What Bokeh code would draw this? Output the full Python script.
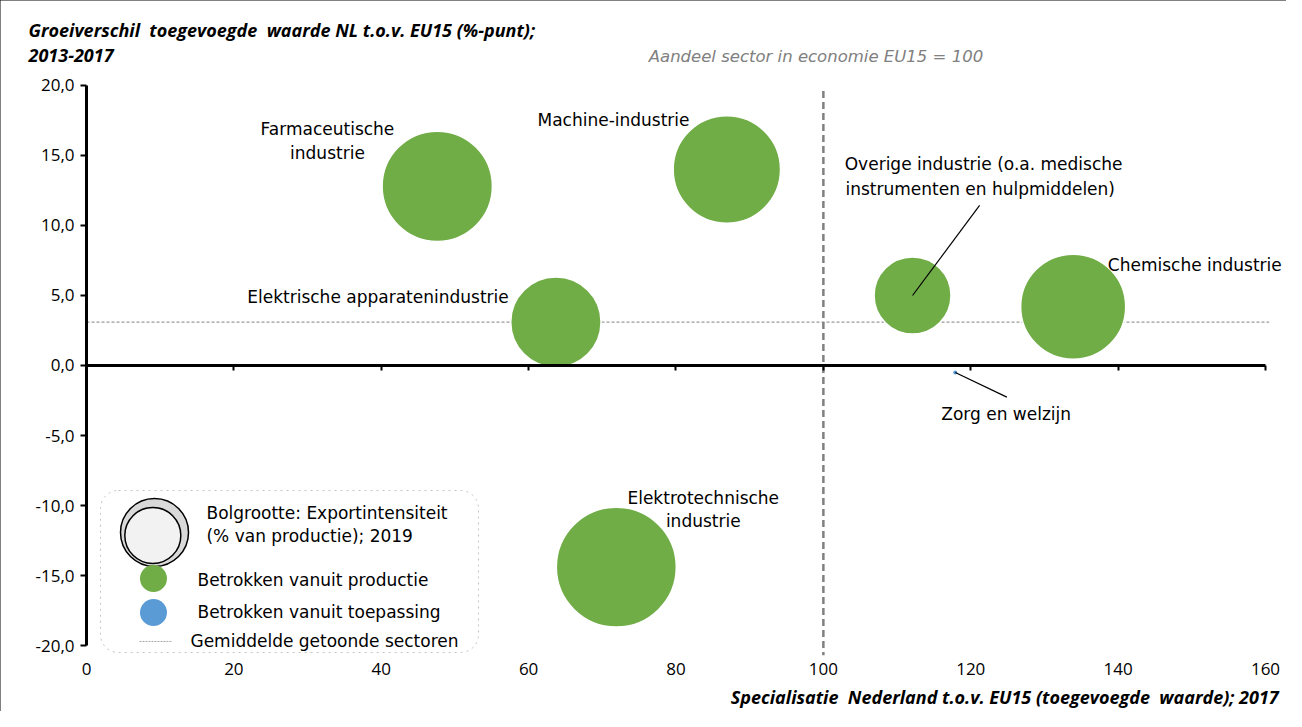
from bokeh.plotting import figure
from bokeh.models import Label, FixedTicker, BoxAnnotation, ColumnDataSource, LinearAxis
from bokeh.embed import file_html
from bokeh.resources import INLINE
import numpy as np

# ---------------- data ----------------
sectors = ["Farmaceutische industrie", "Machine-industrie", "Elektrische apparatenindustrie",
           "Overige industrie", "Chemische industrie", "Elektrotechnische industrie",
           "Zorg en welzijn"]
specialisatie = [47.6, 86.9, 63.7, 112.1, 133.9, 71.9, 117.9]      # x: index EU15 = 100
groeiverschil = [12.8, 14.0, 3.1, 5.0, 4.2, -14.4, -0.5]           # y: %-punt
exportintensiteit = [76, 72, 51, 37, 69, 90, 0.2]                  # bubble size (% of production)
betrokken = ["productie", "productie", "productie", "productie", "productie",
             "productie", "toepassing"]
gemiddelde = 3.1
eu15_index = 100
x_ticks = [0, 20, 40, 60, 80, 100, 120, 140, 160]
y_ticks = [-20, -15, -10, -5, 0, 5, 10, 15, 20]
y_tick_labels = ["-20,0", "-15,0", "-10,0", "-5,0", "0,0", "5,0", "10,0", "15,0", "20,0"]

GREEN = "#70AD47"
BLUE = "#5B9BD5"
FONT = "DejaVu Sans"
TFONT = "Open Sans"
LSIZE = "17px"
BUBBLE_SCALE = 12.65  # px diameter per sqrt(%)

colors = [GREEN if b == "productie" else BLUE for b in betrokken]
sizes = [BUBBLE_SCALE * np.sqrt(v) for v in exportintensiteit]
src = ColumnDataSource(dict(x=specialisatie, y=groeiverschil, size=sizes, color=colors, name=sectors))

W, H = 1286, 711
# frame covers the whole canvas; axes are placed at fixed data locations
p = figure(width=W, height=H, x_range=(-11.671, 162.85), y_range=(-24.714, 26.071),
           output_backend="svg", toolbar_location=None,
           x_axis_location=None, y_axis_location=None,
           min_border=0, min_border_left=0, min_border_right=0,
           min_border_top=0, min_border_bottom=0)
p.styles = {"outline": "1px solid #000", "outline-offset": "-1px"}
p.outline_line_color = None
p.xgrid.visible = False
p.ygrid.visible = False
p.background_fill_color = "white"
p.border_fill_color = "white"

# legend box (underlay)
box = BoxAnnotation(left=1.9, right=53.2, top=-8.93, bottom=-20.5, border_radius=18,
                    fill_color="white", fill_alpha=1, line_color="#404040",
                    line_dash="dotted", line_width=1, level="underlay")
p.add_layout(box)

# y axis at x = 0
yax = LinearAxis(fixed_location=0, bounds=(-20, 20), ticker=FixedTicker(ticks=y_ticks))
yax.major_label_overrides = {t: l for t, l in zip(y_ticks, y_tick_labels)}
yax.axis_line_width = 3
yax.axis_line_color = "black"
yax.major_tick_out = 6
yax.major_tick_in = 0
yax.major_tick_line_width = 2
yax.minor_tick_line_color = None
yax.major_label_text_font = TFONT
yax.major_label_text_font_size = "17px"
yax.major_label_text_color = "black"
yax.major_label_standoff = 6
p.add_layout(yax, "left")

# x axis line at y = 0 (ticks only)
xax0 = LinearAxis(fixed_location=0, bounds=(0, 160), ticker=FixedTicker(ticks=x_ticks))
xax0.axis_line_width = 3
xax0.axis_line_color = "black"
xax0.major_tick_out = 5
xax0.major_tick_in = 0
xax0.major_tick_line_width = 2
xax0.minor_tick_line_color = None
xax0.major_label_text_color = None
xax0.major_label_text_font_size = "1px"
p.add_layout(xax0, "below")

# x tick labels at the bottom (y = -20)
xax = LinearAxis(fixed_location=-20, bounds=(0, 160), ticker=FixedTicker(ticks=x_ticks))
xax.axis_line_color = None
xax.major_tick_line_color = None
xax.minor_tick_line_color = None
xax.major_tick_out = 0
xax.major_tick_in = 0
xax.major_label_text_font = TFONT
xax.major_label_text_font_size = "17px"
xax.major_label_text_color = "black"
xax.major_label_standoff = 17
p.add_layout(xax, "below")

# reference lines
p.segment(x0=[0], y0=[gemiddelde], x1=[160.5], y1=[gemiddelde], line_color="#808080",
          line_width=1, line_dash="3 2")
p.segment(x0=[eu15_index], y0=[19.6], x1=[eu15_index], y1=[-20.7], line_color="#808080",
          line_width=2.5, line_dash="7 4")

# bubbles
p.scatter("x", "y", size="size", source=src, fill_color="color", line_color="white",
          line_width=1.5, fill_alpha=1)

# leader lines
p.segment(x0=[specialisatie[3], specialisatie[6]], y0=[groeiverschil[3], groeiverschil[6]],
          x1=[121.2, 124.9], y1=[11.43, -2.26], line_color="black", line_width=1.2)


def lab(x, y, text, align="left", size=LSIZE, style="normal", color="black", font=FONT):
    p.add_layout(Label(x=x, y=y, text=text, text_align=align, text_baseline="middle",
                       text_font=font, text_font_size=size, text_font_style=style,
                       text_color=color))


# bubble labels
lab(32.7, 16.86, "Farmaceutische", "center")
lab(32.7, 15.21, "industrie", "center")
lab(61.2, 17.57, "Machine-industrie")
lab(102.9, 14.36, "Overige industrie (o.a. medische")
lab(103.0, 12.64, "instrumenten en hulpmiddelen)")
lab(138.6, 7.21, "Chemische industrie")
lab(57.3, 4.86, "Elektrische apparatenindustrie", "right")
lab(83.7, -9.43, "Elektrotechnische", "center")
lab(83.7, -11.14, "industrie", "center")
lab(116.0, -3.5, "Zorg en welzijn")

# titles
lab(-7.87, 23.93, "Groeiverschil\u00a0 toegevoegde\u00a0 waarde NL t.o.v. EU15 (%-punt);",
    size="18px", style="bold italic", font=TFONT)
lab(-7.87, 22.14, "2013-2017", size="18px", style="bold italic", font=TFONT)
lab(76.3, 22.07, "Aandeel sector in economie EU15 = 100", size="16.5px", style="italic",
    color="#808080")
lab(161.8, -23.71, "Specialisatie\u00a0 Nederland t.o.v. EU15 (toegevoegde\u00a0 waarde); 2017",
    "right", size="18px", style="bold italic", font=TFONT)

# legend contents
p.scatter([9.23], [-11.93], size=68, fill_color="#d9d9d9", line_color="black", line_width=1.5)
p.scatter([9.0], [-12.14], size=56, fill_color="#f2f2f2", line_color="black", line_width=1.5)
p.scatter([9.09], [-15.21], size=27, fill_color=GREEN, line_color=None)
p.scatter([9.09], [-17.64], size=27, fill_color=BLUE, line_color=None)
p.segment(x0=[7.19], y0=[-19.71], x1=[11.67], y1=[-19.71], line_color="#a6a6a6",
          line_width=1, line_dash="2 1")
lab(16.28, -10.57, "Bolgrootte: Exportintensiteit")
lab(16.28, -12.21, "(% van productie); 2019")
lab(15.06, -15.29, "Betrokken vanuit productie")
lab(15.06, -17.64, "Betrokken vanuit toepassing")
lab(14.11, -19.71, "Gemiddelde getoonde sectoren")

open("out.html", "w").write(file_html(p, INLINE))
